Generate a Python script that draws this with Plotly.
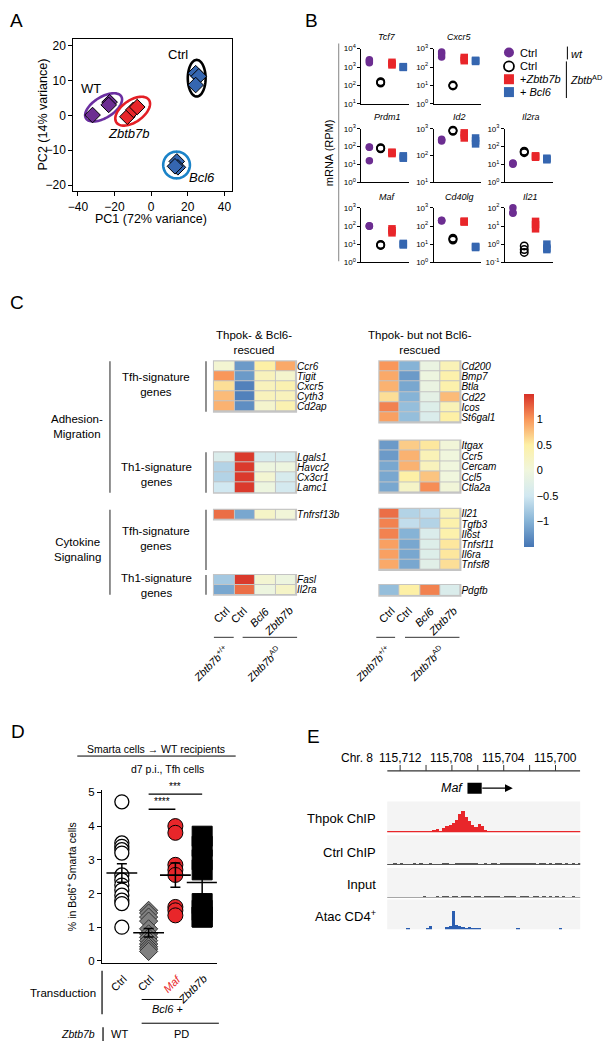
import numpy as np
import plotly.graph_objects as go

W, H = 605, 1050
FONT = "Liberation Sans, Arial, sans-serif"

# ---------------- A: PCA ----------------
wt_pc1 = [-32.0, -22.7, -23.2]
wt_pc2 = [0.1, 3.8, 3.0]
zb_pc1 = [-13.0, -9.7, -7.6]
zb_pc2 = [-0.4, 1.6, 2.4]
ctrl_pc1 = [24.3, 26.0, 24.3]
ctrl_pc2 = [12.1, 11.2, 8.7]
bcl6_pc1 = [14.0, 14.6, 13.0]
bcl6_pc2 = [-13.2, -14.9, -14.6]

# ---------------- B: mRNA (RPM) ----------------
b_genes = ["Tcf7", "Cxcr5", "Prdm1", "Id2", "Il2ra", "Maf", "Cd40lg", "Il21"]
b_decades = [(1, 4), (0, 3), (0, 3), (1, 3), (0, 3), (0, 3), (0, 3), (-1, 2)]
rpm_wt_ctrl = [[2500, 1700, 2100], [650, 350, 500], [95, 90, 16], [380, 350, 400],
               [11, 12, 10], [100, 98, 102], [200, 190, 210], [100, 55, 50]]
rpm_ad_ctrl = [[150, 135, 160], [10, 9.5, 10.5], [80, 75, 85], [850, 800, 880],
               [50, 45, 55], [9, 8.5, 9.5], [19, 17, 21], [0.8, 0.5, 0.35]]
rpm_ad_zb = [[1800, 1300, 1500], [330, 220, 270], [48, 40, 45], [700, 450, 580],
             [28, 25, 30], [70, 42, 55], [175, 165, 185], [18, 12, 7]]
rpm_ad_bcl6 = [[1000, 950, 1050], [230, 200, 220], [30, 22, 26], [450, 270, 350],
               [22, 18, 20], [11, 9, 10], [7, 6.5, 7.5], [1.0, 0.5, 0.6]]

# ---------------- C: heatmaps ----------------
hm_cols = ["Ctrl", "Ctrl", "<i>Bcl6</i>", "<i>Zbtb7b</i>"]
l_tfh_genes = ["Ccr6", "Tigit", "Cxcr5", "Cyth3", "Cd2ap"]
l_tfh_z = [[0.1, -1.2, 0.5, 0.9], [1.0, -1.2, 0.3, 0.15], [0.6, -1.4, 0.3, 0.4],
           [0.8, -1.4, 0.3, 0.3], [0.85, -1.3, 0.15, 0.4]]
l_th1_genes = ["Lgals1", "Havcr2", "Cx3cr1", "Lamc1"]
l_th1_z = [[-0.35, 1.45, -0.4, -0.4], [-0.7, 1.45, -0.05, -0.05],
           [-0.7, 1.45, 0.1, -0.4], [-0.5, 1.45, -0.05, -0.45]]
l_ctfh_genes = ["Tnfrsf13b"]
l_ctfh_z = [[1.2, -1.1, 0.2, 0.05]]
l_cth1_genes = ["Fasl", "Il2ra"]
l_cth1_z = [[-0.8, 1.45, 0.1, -0.05], [-1.1, 1.2, -0.05, 0.2]]

r_tfh_genes = ["Cd200", "Bmp7", "Btla", "Cd22", "Icos", "St6gal1"]
r_tfh_z = [[1.0, -1.0, -0.1, 0.35], [0.9, -1.2, -0.05, 0.45], [0.85, -1.1, -0.1, 0.45],
           [0.6, -1.0, -0.2, 0.8], [1.1, -0.9, -0.3, 0.35], [0.95, -0.9, -0.35, 0.5]]
r_th1_genes = ["Itgax", "Ccr5", "Cercam", "Ccl5", "Ctla2a"]
r_th1_z = [[-1.2, 0.7, 0.55, 0.05], [-1.2, 0.85, 0.35, 0.0], [-1.1, 0.85, 0.3, 0.0],
           [-1.1, 0.5, 0.75, 0.0], [-1.1, 0.2, 1.05, 0.05]]
r_ctfh_genes = ["Il21", "Tgfb3", "Il6st", "Tnfsf11", "Il6ra", "Tnfsf8"]
r_ctfh_z = [[1.2, -0.7, -0.6, 0.35], [1.1, -0.6, -0.7, 0.45], [1.1, -1.0, -0.35, 0.45],
            [0.95, -1.1, -0.3, 0.55], [0.95, -1.1, -0.3, 0.55], [0.9, -1.1, -0.25, 0.6]]
r_cth1_genes = ["Pdgfb"]
r_cth1_z = [[-0.9, 0.5, 1.1, -0.35]]

# ---------------- D: % in Bcl6+ Smarta cells ----------------
d_labels = ["Ctrl", "Ctrl", "<i>Maf</i>", "<i>Zbtb7b</i>"]
d_wt_ctrl = [4.72, 3.5, 3.4, 3.3, 3.2, 2.55, 2.4, 2.25, 2.1, 1.95, 1.8, 1.7, 1.0]
d_pd_ctrl = [1.5, 1.42, 1.3, 1.18, 0.95, 0.8, 0.7, 0.6, 0.5, 0.42, 0.35, 0.28]
d_pd_maf = [4.0, 3.8, 2.85, 2.7, 2.55, 1.6, 1.5, 1.35]
d_pd_zb = [3.7, 3.4, 3.0, 2.7, 1.7, 1.5, 1.3, 1.3]

# ---------------- E: Maf locus tracks ----------------
e_tick_kb = [115712, 115708, 115704, 115700]
e_left_kb = 115713.0
e_bin_kb = 0.25
maf_exon_kb = [115706.8, 115705.7]
maf_arrow_kb = 115703.3
thpok_chip = [1.0, 1.0, 1.2, 1.0, 1.0, 1.3, 1.0, 1.0, 1.2, 1.0,
              1.5, 1.0, 1.2, 1.5, 3.0, 4.0, 2.0, 5.0, 7.0, 8.0,
              10.0, 13.0, 19.0, 22.0, 16.0, 12.0, 8.0, 6.0, 9.0, 7.0,
              2.5, 1.5, 1.2, 1.5, 1.0, 1.2, 1.0, 1.0, 1.3, 1.0,
              1.2, 1.0, 1.0, 1.5, 1.0, 1.3, 1.0, 1.0, 1.2, 1.0,
              1.0, 1.5, 1.2, 1.8, 1.0, 1.3, 1.0, 1.2, 1.0, 1.0]
ctrl_chip = [0.6, 0.3, 0.8, 0.4, 0.9, 0.3, 0.6, 0.5, 0.8, 0.3,
             0.7, 0.4, 0.6, 0.8, 0.3, 0.5, 0.4, 0.7, 1.0, 0.6,
             0.5, 0.7, 0.9, 0.8, 1.0, 0.9, 1.3, 2.2, 0.4, 0.6,
             0.8, 0.5, 0.9, 0.7, 0.5, 0.8, 0.9, 1.0, 0.7, 1.0,
             0.9, 1.1, 0.8, 1.0, 0.7, 0.9, 0.6, 1.0, 0.8, 0.5,
             0.9, 0.6, 0.7, 1.0, 0.5, 0.8, 0.4, 0.9, 0.6, 0.7]
input_chip = [0.5, 0.4, 0.6, 0.3, 0.5, 0.6, 0.4, 0.5, 0.3, 0.6,
              0.5, 0.7, 0.4, 0.6, 0.5, 0.8, 0.6, 0.7, 0.8, 0.6,
              0.9, 0.7, 0.6, 0.8, 0.7, 0.9, 0.6, 0.8, 0.7, 0.6,
              0.9, 0.7, 0.8, 0.9, 0.7, 0.6, 0.8, 0.9, 0.7, 0.8,
              0.6, 0.8, 0.9, 0.7, 0.6, 0.8, 0.7, 0.5, 0.8, 0.6,
              0.7, 0.5, 0.8, 0.6, 0.7, 0.4, 0.6, 0.7, 0.5, 0.6]
atac_cd4 = [0, 0, 0, 0, 0, 0, 1.0, 0, 0, 0,
            0, 0, 1.2, 4.0, 0, 0, 0, 0, 3.0, 4.0,
            19.0, 5.0, 4.0, 2.5, 2.0, 2.5, 1.5, 2.0, 1.0, 0,
            0, 0, 0, 0, 0, 0, 0, 0, 0, 0,
            1.0, 0, 0, 0, 0, 0, 0, 0, 0, 0,
            0, 0, 0, 1.0, 0, 0, 0, 0, 0, 0]

PURPLE = "#6c2d91"
RED = "#e8262a"
BLUE = "#3566b0"

fig = go.Figure()
ann = []
shapes = []
count = [0]


def add_axes(x0, x1, y0, y1, xopt=None, yopt=None):
    count[0] += 1
    k = "" if count[0] == 1 else str(count[0])
    hidden = dict(visible=False, showgrid=False, zeroline=False)
    xa = dict(hidden, domain=[x0 / W, x1 / W], anchor="y" + k)
    ya = dict(hidden, domain=[1 - y1 / H, 1 - y0 / H], anchor="x" + k)
    if xopt:
        xa.update(xopt)
    if yopt:
        ya.update(yopt)
    fig.update_layout({"xaxis" + k: xa, "yaxis" + k: ya})
    return "x" + k, "y" + k


def vis(**kw):
    d = dict(visible=True, showline=True, linecolor="black", linewidth=1,
             ticks="outside", ticklen=3, tickcolor="black", showgrid=False,
             tickfont=dict(family=FONT, size=8, color="black"))
    d.update(kw)
    return d


def txt(x, y, s, size=11, xanchor="center", yanchor="middle", color="black",
        angle=0, xref="paper", yref="paper", xshift=0):
    ann.append(dict(x=x / W if xref == "paper" else x,
                    y=1 - y / H if yref == "paper" else y,
                    xref=xref, yref=yref, text=s, showarrow=False,
                    xanchor=xanchor, yanchor=yanchor, textangle=angle, xshift=xshift,
                    font=dict(family=FONT, size=size, color=color)))


def seg(x0, y0, x1, y1, color="black", width=1.0):
    shapes.append(dict(type="line", xref="paper", yref="paper",
                       x0=x0 / W, x1=x1 / W, y0=1 - y0 / H, y1=1 - y1 / H,
                       line=dict(color=color, width=width)))


def rect(x0, y0, x1, y1, fill):
    shapes.append(dict(type="rect", xref="paper", yref="paper", layer="below",
                       x0=x0 / W, x1=x1 / W, y0=1 - y1 / H, y1=1 - y0 / H,
                       fillcolor=fill, line=dict(width=0)))


# canvas in pixel units (for legend glyphs)
cx, cy = add_axes(0, W, 0, H, dict(range=[0, W]), dict(range=[H, 0]))

# panel letters
for letter, lx, ly in [("A", 11, 15), ("B", 309, 15), ("C", 11, 300), ("D", 12, 733), ("E", 311, 738)]:
    txt(lx, ly, letter, size=19)

# ======================= A =======================
ax_, ay_ = add_axes(68, 228, 33, 187,
                    vis(range=[-42.5, 44], mirror=True, linewidth=1.2, ticklen=4,
                        tickvals=[-40, -20, 0, 20, 40], tickfont=dict(family=FONT, size=12)),
                    vis(range=[-21.7, 22], mirror=True, linewidth=1.2, ticklen=4,
                        tickvals=[-20, -10, 0, 10, 20], tickfont=dict(family=FONT, size=12)))
sx = (228 - 68) / (44 + 42.5)
sy = (187 - 33) / (22 + 21.7)


def ellipse(xs, ys, a, b, ang, color):
    mx, my = np.mean(xs), np.mean(ys)
    t = np.linspace(0, 2 * np.pi, 73)
    th = np.radians(ang)
    u, v = a * np.cos(t), b * np.sin(t)
    px = mx + (u * np.cos(th) - v * np.sin(th)) / sx
    py = my + (u * np.sin(th) + v * np.cos(th)) / sy
    path = "M " + " L ".join(f"{p:.3f},{q:.3f}" for p, q in zip(px, py)) + " Z"
    shapes.append(dict(type="path", xref=ax_, yref=ay_, path=path, layer="below",
                       line=dict(color=color, width=2.6)))


ellipse(wt_pc1, wt_pc2, 21, 10.5, 32, "#6b2fa0")
ellipse(zb_pc1, zb_pc2, 20, 11, 35, "#e41f26")
ellipse(ctrl_pc1, ctrl_pc2, 18.5, 9, 90, "black")
ellipse(bcl6_pc1, bcl6_pc2, 13.5, 13.5, 0, "#1b83c8")

for xs, ys, col in [(wt_pc1, wt_pc2, PURPLE), (zb_pc1, zb_pc2, RED),
                    (ctrl_pc1, ctrl_pc2, BLUE), (bcl6_pc1, bcl6_pc2, BLUE)]:
    fig.add_trace(go.Scatter(x=xs, y=ys, xaxis=ax_, yaxis=ay_, mode="markers",
                             marker=dict(symbol="diamond", size=12, color=col,
                                         line=dict(color="black", width=1))))
txt(14.6, 17.4, "Ctrl", 13, xref=ax_, yref=ay_)
txt(-33, 7.8, "WT", 13, xref=ax_, yref=ay_)
txt(-12.4, -5.2, "<i>Zbtb7b</i>", 13, xref=ax_, yref=ay_)
txt(28, -17.7, "<i>Bcl6</i>", 13, xref=ax_, yref=ay_)
txt(146, 215, "PC1 (72% variance)", 12.5)
txt(37, 110, "PC2 (14% variance)", 12.5, angle=-90)

# ======================= B =======================
b_cells = [(0, 0), (0, 1), (1, 0), (1, 1), (1, 2), (2, 0), (2, 1), (2, 2)]
col_px = [(359, 407), (432, 480), (504, 552)]
row_px = [(43, 99), (124, 178), (204, 259)]
title_y = [31, 112, 193]
for i, g in enumerate(b_genes):
    r, c = b_cells[i]
    lo, hi = b_decades[i]
    tv = [10.0 ** k for k in range(lo, hi + 1)]
    tt = [f"10<sup>{k}</sup>" for k in range(lo, hi + 1)]
    bx, by = add_axes(col_px[c][0], col_px[c][1], row_px[r][0], row_px[r][1],
                      vis(range=[0.3, 4.5], ticks="", showticklabels=False, linewidth=0.9),
                      vis(type="log", range=[lo, hi], tickvals=tv, ticktext=tt, linewidth=0.9))
    groups = [(rpm_wt_ctrl[i], dict(symbol="circle", color=PURPLE, size=7.5)),
              (rpm_ad_ctrl[i], dict(symbol="circle-open", color="black", size=7.5, line=dict(width=1.5))),
              (rpm_ad_zb[i], dict(symbol="square", color=RED, size=7.5)),
              (rpm_ad_bcl6[i], dict(symbol="square", color=BLUE, size=7.5))]
    for j, (vals, mk) in enumerate(groups):
        fig.add_trace(go.Scatter(x=[j + 1] * len(vals), y=vals, xaxis=bx, yaxis=by,
                                 mode="markers", marker=mk, cliponaxis=False))
    txt((col_px[c][0] + col_px[c][1]) / 2 + 2, title_y[r], f"<i>{g}</i>", 9)

seg(336, 38, 336, 258, "#999999", 1.2)
txt(327, 148, "mRNA (RPM)", 11, angle=-90)

# legend
leg_y = [47, 61, 74, 87]
leg_mk = [dict(symbol="circle", color=PURPLE, size=10),
          dict(symbol="circle-open", color="black", size=10, line=dict(width=1.8)),
          dict(symbol="square", color=RED, size=10),
          dict(symbol="square", color=BLUE, size=10)]
leg_txt = ["Ctrl", "Ctrl", "+<i>Zbtb7b</i>", "+ <i>Bcl6</i>"]
for yy, mk, s in zip(leg_y, leg_mk, leg_txt):
    fig.add_trace(go.Scatter(x=[508], y=[yy], xaxis=cx, yaxis=cy, mode="markers", marker=mk))
    txt(517, yy, s, 11, xanchor="left")
seg(567, 41, 567, 54, width=1)
txt(569, 49, "<i>wt</i>", 11, xanchor="left")
seg(566, 56, 566, 93, width=1)
txt(568, 74, "<i>Zbtb</i><sup>AD</sup>", 10.5, xanchor="left")

# ======================= C =======================
cscale = [[0.0, "#4575b4"], [1 / 6, "#86b3d6"], [2 / 6, "#d1e8f1"], [0.5, "#f0f6dd"],
          [4 / 6, "#fdf0a6"], [5 / 6, "#f9975a"], [1.0, "#d73027"]]
first = [True]


def block(x0, x1, y0, y1, genes, z):
    hx, hy = add_axes(x0, x1, y0, y1,
                      dict(range=[-0.5, 3.5]),
                      dict(visible=True, range=[len(genes) - 0.5, -0.5], side="right",
                           showline=False, ticks="", tickvals=list(range(len(genes))),
                           ticktext=[f"<i>{g}</i>" for g in genes],
                           tickfont=dict(family=FONT, size=10, color="black")))
    rect(x0 - 1, y0 - 1, x1 + 1, y1 + 1, "#c4c4c4")
    tr = go.Heatmap(z=z, x=[0, 1, 2, 3], y=list(range(len(genes))), xaxis=hx, yaxis=hy,
                    colorscale=cscale, zmin=-1.5, zmax=1.5, xgap=1, ygap=1,
                    showscale=first[0])
    if first[0]:
        tr.colorbar = dict(x=523 / W, xanchor="left", y=1 - 392 / H, yanchor="top",
                           len=155 / H, lenmode="fraction", thickness=10, xpad=0, ypad=0,
                           outlinewidth=0, ticks="", tickvals=[-1, -0.5, 0, 0.5, 1],
                           ticktext=["\u22121", "\u22120.5", "0", "0.5", "1"],
                           tickfont=dict(family=FONT, size=11, color="black"))
        first[0] = False
    fig.add_trace(tr)
    return hx


block(210, 293, 359, 410, l_tfh_genes, l_tfh_z)
block(210, 293, 451, 492, l_th1_genes, l_th1_z)
block(210, 293, 509, 519, l_ctfh_genes, l_ctfh_z)
hl = block(210, 293, 575, 595, l_cth1_genes, l_cth1_z)
block(377, 459, 359, 421, r_tfh_genes, r_tfh_z)
block(377, 459, 439, 492, r_th1_genes, r_th1_z)
block(377, 459, 508, 570, r_ctfh_genes, r_ctfh_z)
hr = block(377, 459, 585, 596, r_cth1_genes, r_cth1_z)

txt(250, 340, "Thpok- & Bcl6-<br>rescued", 11.5)
txt(418, 340, "Thpok- but not Bcl6-<br>rescued", 11.5)

for hx in (hl, hr):
    for j, s in enumerate(hm_cols):
        txt(j, 602, s, 11, xanchor="right", yanchor="top", angle=-45,
            xref=hx, xshift=[10, 7, 9, 12][j])
for (a0, a1, b0, b1, g1, g2) in [(210, 230, 239, 294, 229, 283), (374, 393, 403, 458, 393, 447)]:
    seg(a0, 638, a1, 638, "#333333", 1)
    seg(b0, 638, b1, 638, "#333333", 1)
    txt(g1, 641, "<i>Zbtb7b</i><sup>+/+</sup>", 10.5, xanchor="right", yanchor="top", angle=-45)
    txt(g2, 641, "<i>Zbtb7b</i><sup>AD</sup>", 10.5, xanchor="right", yanchor="top", angle=-45)

GREY = "#555555"
seg(105, 359, 105, 492, GREY, 1.3)
seg(105, 509, 105, 595, GREY, 1.3)
for y0, y1 in [(359, 410), (451, 492), (509, 570), (575, 595)]:
    seg(202, y0, 202, y1, GREY, 1.3)
txt(72, 425, "Adhesion-<br>Migration", 11.5)
txt(72, 549, "Cytokine<br>Signaling", 11.5)
txt(152, 383, "Tfh-signature<br>genes", 11.5)
txt(152, 473, "Th1-signature<br>genes", 11.5)
txt(152, 538, "Tfh-signature<br>genes", 11.5)
txt(152, 586, "Th1-signature<br>genes", 11.5)

# ======================= D =======================
dx, dy = add_axes(97, 213, 792, 967,
                  vis(range=[0.26, 4.55], ticks="", showticklabels=False, linewidth=1.2),
                  vis(range=[-0.06, 5.08], tickvals=[0, 1, 2, 3, 4, 5], ticklen=4, linewidth=1.2,
                      tickfont=dict(family=FONT, size=11.5)))
d_sets = [(d_wt_ctrl, dict(symbol="circle", color="white", size=14, line=dict(color="black", width=1.3))),
          (d_pd_ctrl, dict(symbol="diamond", color="#808080", size=14, line=dict(color="#333333", width=1))),
          (d_pd_maf, dict(symbol="circle", color=RED, size=15, line=dict(color="black", width=1))),
          (d_pd_zb, dict(symbol="square", color="black", size=20, line=dict(color="black", width=1)))]
for k, (vals, mk) in enumerate(d_sets):
    xk = k + 1
    fig.add_trace(go.Scatter(x=[xk] * len(vals), y=vals, xaxis=dx, yaxis=dy, mode="markers",
                             marker=mk, cliponaxis=False))
    m = float(np.mean(vals))
    sem = float(np.std(vals, ddof=1) / np.sqrt(len(vals)))
    fig.add_trace(go.Scatter(x=[xk], y=[m], xaxis=dx, yaxis=dy, mode="markers",
                             marker=dict(symbol="line-ew", size=22, line=dict(color="black", width=1.6)),
                             error_y=dict(type="data", array=[sem], color="black", thickness=1.5, width=5)))
for x0, x1, yv, stars in [(2, 3, 4.5, "****"), (2, 4, 4.95, "***")]:
    shapes.append(dict(type="line", xref=dx, yref=dy, x0=x0, x1=x1, y0=yv, y1=yv,
                       line=dict(color="black", width=1.3)))
    txt((x0 + x1) / 2, yv, stars, 10, yanchor="bottom", xref=dx, yref=dy)

for k, s in enumerate(d_labels):
    txt(k + 1, 974, s, 11, xanchor="right", yanchor="top", angle=-45, xref=dx,
        xshift=10, color=RED if k == 2 else "black")
txt(152, 751, "Smarta cells \u2192 WT recipients", 10.5)
seg(72, 758, 232, 758, width=1)
txt(163, 771, "d7 p.i., Tfh cells", 10.5)
txt(66, 880, "% in Bcl6<sup>+</sup> Smarta cells", 10.5, angle=-90)
txt(58, 997, "Transduction", 11.5)
seg(97, 975, 97, 1019, width=1.2)
seg(137, 1004, 178, 1004, width=1)
txt(163, 1014, "<i>Bcl6</i> +", 11)
seg(137, 1028, 215, 1028, width=1)
txt(92, 1039, "<i>Zbtb7b</i>", 10.5, xanchor="right")
seg(98, 1032, 98, 1046, width=1.2)
txt(115, 1039, "WT", 11)
txt(177, 1039, "PD", 11)

# ======================= E =======================
e_range = [e_left_kb, 115698.09]
ex, ey = add_axes(385, 580, 755, 800, dict(range=e_range), dict(range=[0, 1]))
txt(355, 760, "Chr. 8", 12)
for v in e_tick_kb:
    txt(v, 760, f"{v:,}", 12, xref=ex)
shapes.append(dict(type="line", xref=ex, yref="paper", x0=e_range[0], x1=e_range[1],
                   y0=1 - 773 / H, y1=1 - 773 / H, line=dict(color="#333333", width=1.2)))
for v in range(115700, 115713, 2):
    shapes.append(dict(type="line", xref=ex, yref="paper", x0=v, x1=v,
                       y0=1 - 773 / H, y1=1 - 767 / H, line=dict(color="#333333", width=1)))
shapes.append(dict(type="rect", xref=ex, yref="paper", x0=maf_exon_kb[0], x1=maf_exon_kb[1],
                   y0=1 - 796 / H, y1=1 - 785 / H, fillcolor="black", line=dict(width=0)))
ann.append(dict(x=maf_arrow_kb, y=1 - 790.5 / H, xref=ex, yref="paper", text="",
                showarrow=True, ax=-32, ay=0, axref="pixel", ayref="pixel",
                arrowhead=2, arrowsize=1.3, arrowwidth=1.2, arrowcolor="black"))
txt(464, 790, "<i>Maf</i>", 12.5, xanchor="right")

bins = [e_left_kb - e_bin_kb * (i + 0.5) for i in range(len(thpok_chip))]
tracks = [("Thpok ChIP", thpok_chip, RED, 804, 835, 31),
          ("Ctrl ChIP", ctrl_chip, "#555555", 838, 868, 30),
          ("Input", input_chip, "#555555", 871, 901, 30),
          ("Atac CD4<sup>+</sup>", atac_cd4, "#2a5db0", 903, 933, 30)]
for name, sig, col, y0, y1, top in tracks:
    rect(385, y0, 580, y1, "#f4f4f4")
    tx, ty = add_axes(385, 580, y0, y1, dict(range=e_range), dict(range=[0, top]))
    fig.add_trace(go.Bar(x=bins, y=sig, width=e_bin_kb, xaxis=tx, yaxis=ty,
                         marker=dict(color=col, line=dict(width=0))))
    txt(376, (y0 + y1) / 2 + 2, name, 13, xanchor="right")

fig.update_layout(width=W, height=H, margin=dict(l=0, r=0, t=0, b=0),
                  paper_bgcolor="white", plot_bgcolor="rgba(0,0,0,0)",
                  showlegend=False, font=dict(family=FONT, color="black"),
                  annotations=ann, shapes=shapes, bargap=0)
fig.write_html("out.html", config={"displayModeBar": False},
               post_script="document.body.style.margin='0';")
